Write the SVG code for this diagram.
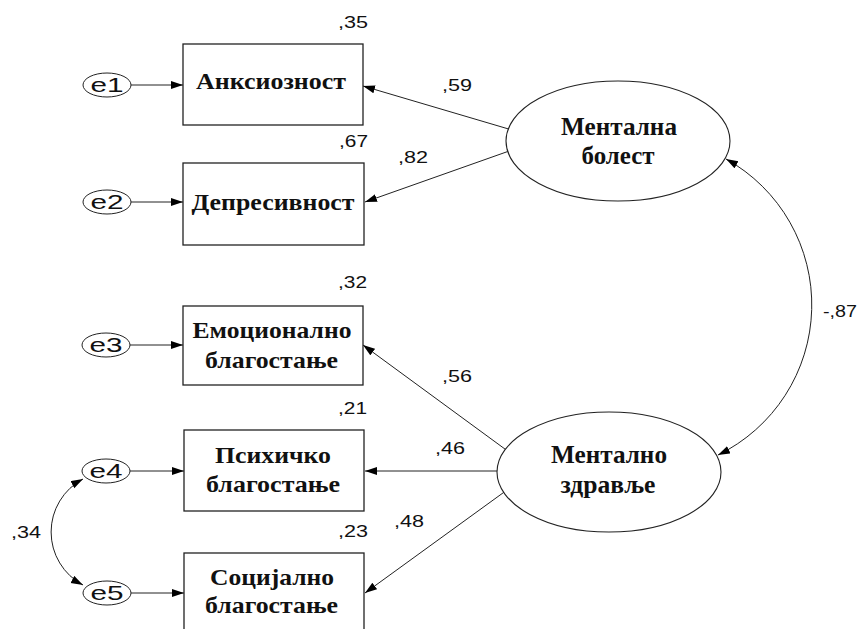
<svg xmlns="http://www.w3.org/2000/svg" width="863" height="629" viewBox="0 0 863 629">
<style>
.bg{fill:#fff}
.box{fill:#fff;stroke:#222;stroke-width:1.3}
.lat{fill:#fff;stroke:#222;stroke-width:1.1}
.err{fill:#fff;stroke:#222;stroke-width:1}
.con{fill:none;stroke:#222;stroke-width:1}
.t{font-family:"Liberation Serif","Times New Roman",serif;font-weight:bold;font-size:24px;fill:#111;text-anchor:middle}
.tl{font-size:25px}
.e{font-family:"Liberation Sans",Arial,sans-serif;font-size:21px;fill:#111;text-anchor:middle}
.n{font-family:"Liberation Sans",Arial,sans-serif;font-size:16px;fill:#111}
</style>
<defs>
<marker id="ah" markerUnits="userSpaceOnUse" markerWidth="13" markerHeight="9" refX="12" refY="4" orient="auto-start-reverse" viewBox="0 0 13 9">
<path d="M0,0 L12,4 L0,8 z" fill="#000"/>
</marker>
</defs>
<rect class="bg" x="0" y="0" width="863" height="629"/>
<g id="connectors">
<line class="con" x1="131" y1="85" x2="183" y2="85" marker-end="url(#ah)"/>
<line class="con" x1="131" y1="202" x2="183" y2="202" marker-end="url(#ah)"/>
<line class="con" x1="130" y1="345" x2="183" y2="345" marker-end="url(#ah)"/>
<line class="con" x1="130" y1="471" x2="184" y2="471" marker-end="url(#ah)"/>
<line class="con" x1="131" y1="593" x2="184" y2="593" marker-end="url(#ah)"/>
<line class="con" x1="512" y1="130" x2="363" y2="86" marker-end="url(#ah)"/>
<line class="con" x1="512" y1="150" x2="365" y2="202" marker-end="url(#ah)"/>
<line class="con" x1="509" y1="452" x2="363" y2="345" marker-end="url(#ah)"/>
<line class="con" x1="500" y1="471" x2="365" y2="471" marker-end="url(#ah)"/>
<line class="con" x1="507" y1="490" x2="365" y2="593" marker-end="url(#ah)"/>
<path class="con" d="M726,159 A167,167 0 0 1 718,455" marker-start="url(#ah)" marker-end="url(#ah)"/>
<path class="con" d="M83,479 A60,60 0 0 0 83,585" marker-start="url(#ah)" marker-end="url(#ah)"/>
</g>
<g id="e1"><ellipse class="err" cx="107" cy="85" rx="24" ry="12"/><text class="e" x="107" y="92" textLength="33" lengthAdjust="spacingAndGlyphs">e1</text></g>
<g id="e2"><ellipse class="err" cx="107" cy="202" rx="24" ry="12"/><text class="e" x="107" y="209" textLength="33" lengthAdjust="spacingAndGlyphs">e2</text></g>
<g id="e3"><ellipse class="err" cx="106" cy="345" rx="24" ry="12"/><text class="e" x="106" y="352" textLength="33" lengthAdjust="spacingAndGlyphs">e3</text></g>
<g id="e4"><ellipse class="err" cx="106" cy="471" rx="24" ry="12"/><text class="e" x="106" y="478" textLength="33" lengthAdjust="spacingAndGlyphs">e4</text></g>
<g id="e5"><ellipse class="err" cx="107" cy="593" rx="24" ry="12"/><text class="e" x="107" y="600" textLength="33" lengthAdjust="spacingAndGlyphs">e5</text></g>
<g id="anksioznost"><rect class="box" x="183" y="44" width="180" height="81"/><text class="t" x="271" y="89" textLength="150" lengthAdjust="spacingAndGlyphs">Анксиозност</text></g>
<g id="depresivnost"><rect class="box" x="183" y="163" width="181" height="82"/><text class="t" x="273" y="210" textLength="163" lengthAdjust="spacingAndGlyphs">Депресивност</text></g>
<g id="emocionalno"><rect class="box" x="183" y="306" width="180" height="79"/><text class="t" x="272" y="338" textLength="159" lengthAdjust="spacingAndGlyphs">Емоционално</text><text class="t" x="271.5" y="368" textLength="133" lengthAdjust="spacingAndGlyphs">благостање</text></g>
<g id="psihicko"><rect class="box" x="184" y="430" width="180" height="81"/><text class="t" x="273" y="463" textLength="116" lengthAdjust="spacingAndGlyphs">Психичко</text><text class="t" x="273" y="492" textLength="134" lengthAdjust="spacingAndGlyphs">благостање</text></g>
<g id="socijalno"><rect class="box" x="184" y="553" width="180" height="82"/><text class="t" x="272" y="585" textLength="124" lengthAdjust="spacingAndGlyphs">Социјално</text><text class="t" x="271.5" y="613" textLength="133" lengthAdjust="spacingAndGlyphs">благостање</text></g>
<g id="mentalna-bolest"><ellipse class="lat" cx="618" cy="141" rx="112" ry="60"/><text class="t tl" x="619" y="135" textLength="116" lengthAdjust="spacingAndGlyphs">Ментална</text><text class="t tl" x="618" y="164" textLength="73" lengthAdjust="spacingAndGlyphs">болест</text></g>
<g id="mentalno-zdravlje"><ellipse class="lat" cx="609" cy="472" rx="112" ry="60"/><text class="t tl" x="609" y="463" textLength="116" lengthAdjust="spacingAndGlyphs">Ментално</text><text class="t tl" x="608" y="493" textLength="95" lengthAdjust="spacingAndGlyphs">здравље</text></g>
<g id="labels">
<text class="n" x="338" y="28" textLength="30" lengthAdjust="spacingAndGlyphs">,35</text>
<text class="n" x="339" y="147" textLength="29" lengthAdjust="spacingAndGlyphs">,67</text>
<text class="n" x="442" y="91" textLength="30" lengthAdjust="spacingAndGlyphs">,59</text>
<text class="n" x="398" y="163" textLength="30" lengthAdjust="spacingAndGlyphs">,82</text>
<text class="n" x="338" y="288" textLength="29" lengthAdjust="spacingAndGlyphs">,32</text>
<text class="n" x="442" y="382" textLength="30" lengthAdjust="spacingAndGlyphs">,56</text>
<text class="n" x="338" y="414" textLength="29" lengthAdjust="spacingAndGlyphs">,21</text>
<text class="n" x="435" y="454" textLength="30" lengthAdjust="spacingAndGlyphs">,46</text>
<text class="n" x="394" y="527" textLength="30" lengthAdjust="spacingAndGlyphs">,48</text>
<text class="n" x="338" y="537" textLength="30" lengthAdjust="spacingAndGlyphs">,23</text>
<text class="n" x="11" y="538" textLength="30" lengthAdjust="spacingAndGlyphs">,34</text>
<text class="n" x="823" y="317" textLength="34" lengthAdjust="spacingAndGlyphs">-,87</text>
</g>
</svg>
